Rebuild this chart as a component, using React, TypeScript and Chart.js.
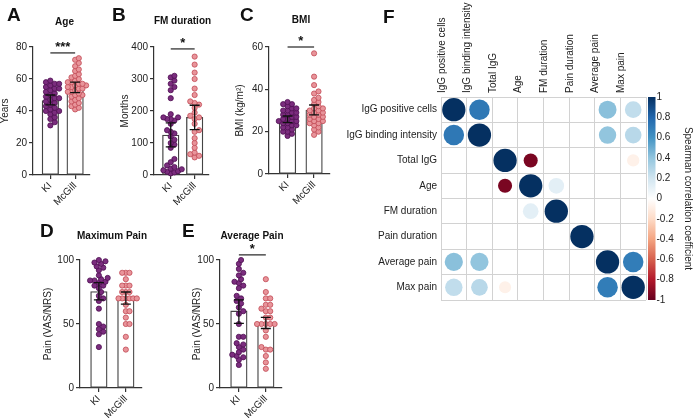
import React, { useEffect, useRef } from 'react';
import { Chart, registerables } from 'chart.js';

Chart.register(...registerables);

const FONT = '"Liberation Sans", Arial, Helvetica, sans-serif';
Chart.defaults.font.family = FONT;
Chart.defaults.color = '#222';

// ---------- data ----------
const groups = ['KI', 'McGill'];

// A: Age (years)
const ageKI = [31, 33, 35, 36, 38, 39, 40, 40, 41, 42, 43, 44, 45, 46, 47, 48, 48, 49, 50, 51, 52, 53, 54, 54, 55, 56, 57, 57, 58, 59];
const ageMcGill = [41, 42, 43, 44, 45, 46, 47, 48, 49, 50, 50, 51, 52, 52, 53, 54, 54, 55, 55, 56, 56, 57, 57, 58, 58, 59, 60, 61, 62, 63, 65, 66, 68, 70, 72, 73];
const ageMean = [46.5, 54.6];
const ageLow = [43.8, 51.5];
const ageHigh = [50, 58];
const ageTicks = [0, 20, 40, 60, 80];

// B: FM duration (months)
const fmKI = [5, 8, 10, 12, 15, 18, 20, 25, 30, 40, 50, 85, 95, 100, 110, 120, 130, 135, 140, 160, 170, 175, 175, 180, 180, 190, 240, 265, 275, 285, 295, 305, 310];
const fmMcGill = [55, 60, 65, 70, 85, 100, 115, 135, 140, 160, 175, 180, 185, 195, 210, 220, 225, 230, 250, 270, 300, 320, 345, 370];
const fmMean = [125, 180];
const fmLow = [88, 142];
const fmHigh = [163, 218];
const fmTicks = [0, 100, 200, 300, 400];

// C: BMI
const bmiKI = [18, 19, 20, 20, 21, 22, 22, 23, 23, 24, 24, 25, 25, 25, 26, 26, 27, 27, 28, 28, 29, 29, 30, 30, 31, 31, 32, 33, 33, 34];
const bmiMcGill = [18.5, 20, 21, 22, 23, 24, 24, 25, 25, 26, 26, 27, 27, 28, 28, 29, 29, 30, 30, 31, 31, 32, 33, 34, 35, 36, 38, 39, 42, 46, 57];
const bmiMean = [25.8, 30.2];
const bmiLow = [24.3, 27.9];
const bmiHigh = [27.4, 32.6];
const bmiTicks = [0, 20, 40, 60];

// D: Maximum pain
const maxPainKI = [32, 42, 44, 46, 48, 50, 62, 68, 70, 72, 75, 78, 80, 80, 82, 83, 84, 84, 85, 86, 88, 92, 94, 95, 97, 98, 99, 100];
const maxPainMcGill = [30, 40, 50, 50, 55, 60, 60, 65, 70, 70, 70, 70, 70, 70, 75, 75, 75, 80, 80, 80, 85, 90, 90, 90];
const maxPainMean = [75.3, 70];
const maxPainLow = [68.8, 65.5];
const maxPainHigh = [82.3, 75];
const painTicks = [0, 50, 100];

// E: Average pain
const avgPainKI = [18, 22, 24, 25, 26, 28, 30, 32, 34, 35, 40, 40, 50, 58, 60, 63, 66, 68, 70, 72, 78, 80, 82, 83, 85, 88, 90, 93, 97, 100];
const avgPainMcGill = [15, 20, 25, 30, 30, 32, 40, 45, 50, 50, 50, 50, 50, 55, 55, 60, 60, 62, 65, 65, 70, 70, 75, 85];
const avgPainMean = [60.2, 51];
const avgPainLow = [50.5, 46.5];
const avgPainHigh = [68.8, 55.2];

// F: Spearman correlation matrix
const corrLabels = ['IgG positive cells', 'IgG binding intensity', 'Total IgG', 'Age', 'FM duration', 'Pain duration', 'Average pain', 'Max pain'];
const corrValues = [
  [1, 0.72, 0, 0, 0, 0, 0.42, 0.25],
  [0.72, 1, 0, 0, 0, 0, 0.4, 0.28],
  [0, 0, 1, -0.95, 0, 0, 0, -0.08],
  [0, 0, -0.95, 1, 0.12, 0, 0, 0],
  [0, 0, 0, 0.12, 1, 0, 0, 0],
  [0, 0, 0, 0, 0, 1, 0, 0],
  [0.42, 0.4, 0, 0, 0, 0, 1, 0.7],
  [0.25, 0.28, -0.08, 0, 0, 0, 0.7, 1],
];
const circleSize = [
  [0.91, 0.8, 0, 0, 0, 0, 0.7, 0.65],
  [0.8, 0.91, 0, 0, 0, 0, 0.68, 0.65],
  [0, 0, 0.91, 0.55, 0, 0, 0, 0.48],
  [0, 0, 0.55, 0.91, 0.61, 0, 0, 0],
  [0, 0, 0, 0.61, 0.91, 0, 0, 0],
  [0, 0, 0, 0, 0, 0.91, 0, 0],
  [0.71, 0.71, 0, 0, 0, 0, 0.91, 0.8],
  [0.68, 0.65, 0.47, 0, 0, 0, 0.8, 0.91],
];
const colorbarTicks = [1, 0.8, 0.6, 0.4, 0.2, 0, -0.2, -0.4, -0.6, -0.8, -1];

// ---------- styles / layout ----------
const AXIS = '#333';
const KI_FILL = '#7b2d7e';
const KI_EDGE = '#4e0f52';
const MC_FILL = '#e8949a';
const MC_EDGE = '#c24a55';
const X_MIN = -0.7;
const X_MAX = 1.6;
const DOT_D = 4.4;
const MAX_SPREAD = 11;
const CAP = 5;
const RDBU = ['#67001F', '#B2182B', '#D6604D', '#F4A582', '#FDDBC7', '#FFFFFF', '#D1E5F0', '#92C5DE', '#4393C3', '#2166AC', '#053061'];

function hexRgb(h: string) {
  return [parseInt(h.slice(1, 3), 16), parseInt(h.slice(3, 5), 16), parseInt(h.slice(5, 7), 16)];
}
function rdbu(v: number) {
  const t = ((Math.max(-1, Math.min(1, v)) + 1) / 2) * 10;
  const i = Math.min(9, Math.floor(t));
  const f = t - i;
  const a = hexRgb(RDBU[i]);
  const b = hexRgb(RDBU[i + 1]);
  const c = a.map((av, k) => Math.round(av + (b[k] - av) * f));
  return `rgb(${c[0]},${c[1]},${c[2]})`;
}

function swarm(values: number[], center: number, pxPerY: number, pxPerX: number) {
  const order = values.map((_, i) => i).sort((a, b) => values[a] - values[b]);
  const placed: { x: number; y: number }[] = [];
  const offs: number[] = new Array(values.length).fill(0);
  const step = DOT_D * 0.5;
  for (const i of order) {
    const y = values[i] * pxPerY;
    let chosen = 0;
    for (let k = 0; k < 80; k++) {
      const off = k === 0 ? 0 : (k % 2 ? 1 : -1) * Math.ceil(k / 2) * step;
      if (placed.every((p) => (p.x - off) ** 2 + (p.y - y) ** 2 >= DOT_D * DOT_D * 0.9)) {
        chosen = off;
        break;
      }
    }
    placed.push({ x: chosen, y });
    offs[i] = chosen;
  }
  const maxOff = Math.max(...offs.map(Math.abs), 1);
  const k = maxOff > MAX_SPREAD ? MAX_SPREAD / maxOff : 1;
  return values.map((v, i) => ({ x: center + (offs[i] * k) / pxPerX, y: v }));
}

type Panel = {
  id: string;
  left: number; top: number; width: number; height: number;
  axisX: number; plotRight: number; plotTop: number; plotBottom: number;
  yTicks: number[]; yTitle: string;
  ki: number[]; mc: number[]; mean: number[]; low: number[]; high: number[];
  sig?: { y: number; text: string };
};

const panels: Panel[] = [
  { id: 'A', left: -1, top: 0, width: 113, height: 215, axisX: 33, plotRight: 90, plotTop: 47, plotBottom: 175,
    yTicks: ageTicks, yTitle: 'Years', ki: ageKI, mc: ageMcGill, mean: ageMean, low: ageLow, high: ageHigh,
    sig: { y: 76.3, text: '***' } },
  { id: 'B', left: 119, top: 0, width: 110, height: 215, axisX: 154, plotRight: 209, plotTop: 47, plotBottom: 175,
    yTicks: fmTicks, yTitle: 'Months', ki: fmKI, mc: fmMcGill, mean: fmMean, low: fmLow, high: fmHigh,
    sig: { y: 394, text: '*' } },
  { id: 'C', left: 234, top: 0, width: 118, height: 215, axisX: 269, plotRight: 330, plotTop: 47, plotBottom: 174,
    yTicks: bmiTicks, yTitle: 'BMI (kg/m²)', ki: bmiKI, mc: bmiMcGill, mean: bmiMean, low: bmiLow, high: bmiHigh,
    sig: { y: 60, text: '*' } },
  { id: 'D', left: 42, top: 200, width: 120, height: 218, axisX: 80, plotRight: 142, plotTop: 260, plotBottom: 388,
    yTicks: painTicks, yTitle: 'Pain (VAS/NRS)', ki: maxPainKI, mc: maxPainMcGill, mean: maxPainMean, low: maxPainLow, high: maxPainHigh },
  { id: 'E', left: 191, top: 200, width: 111, height: 218, axisX: 220, plotRight: 282, plotTop: 260, plotBottom: 388,
    yTicks: painTicks, yTitle: 'Pain (VAS/NRS)', ki: avgPainKI, mc: avgPainMcGill, mean: avgPainMean, low: avgPainLow, high: avgPainHigh,
    sig: { y: 104, text: '*' } },
];

const panelLetters = [
  { t: 'A', x: 7, y: 21 }, { t: 'B', x: 112, y: 21 }, { t: 'C', x: 240, y: 21 },
  { t: 'D', x: 40, y: 237 }, { t: 'E', x: 182, y: 237 }, { t: 'F', x: 383, y: 23 },
];
const panelTitles = [
  { t: 'Age', x: 64.5, y: 25 }, { t: 'FM duration', x: 182.5, y: 24 }, { t: 'BMI', x: 301, y: 23 },
  { t: 'Maximum Pain', x: 112, y: 239 }, { t: 'Average Pain', x: 252, y: 239 },
];

function BarDotPanel({ p }: { p: Panel }) {
  const ref = useRef<HTMLCanvasElement>(null);
  useEffect(() => {
    const ymax = p.yTicks[p.yTicks.length - 1];
    const pxPerY = (p.plotBottom - p.plotTop) / ymax;
    const pxPerX = (p.plotRight - p.axisX) / (X_MAX - X_MIN);
    const kiPts = swarm(p.ki, 0, pxPerY, pxPerX);
    const mcPts = swarm(p.mc, 1, pxPerY, pxPerX);
    const overlay = {
      id: 'overlay',
      afterDatasetsDraw(chart: any) {
        const { ctx } = chart;
        const xs = chart.scales.x;
        const ys = chart.scales.y;
        ctx.save();
        ctx.strokeStyle = '#111';
        ctx.lineWidth = 1.3;
        p.mean.forEach((_, i) => {
          const cx = xs.getPixelForValue(i);
          const yl = ys.getPixelForValue(p.low[i]);
          const yh = ys.getPixelForValue(p.high[i]);
          ctx.beginPath();
          ctx.moveTo(cx, yl); ctx.lineTo(cx, yh);
          ctx.moveTo(cx - CAP, yl); ctx.lineTo(cx + CAP, yl);
          ctx.moveTo(cx - CAP, yh); ctx.lineTo(cx + CAP, yh);
          ctx.stroke();
        });
        if (p.sig) {
          const ly = ys.getPixelForValue(p.sig.y);
          const x0 = xs.getPixelForValue(0);
          const x1 = xs.getPixelForValue(1);
          ctx.strokeStyle = '#222';
          ctx.lineWidth = 1.2;
          ctx.beginPath();
          ctx.moveTo(x0, ly); ctx.lineTo(x1, ly);
          ctx.stroke();
          ctx.fillStyle = '#111';
          ctx.font = `bold 13px ${FONT}`;
          ctx.textAlign = 'center';
          ctx.textBaseline = 'alphabetic';
          ctx.fillText(p.sig.text, (x0 + x1) / 2, ly - 2);
        }
        ctx.restore();
      },
    };
    const chart = new Chart(ref.current!, {
      type: 'bar',
      data: {
        datasets: [
          { type: 'scatter', data: kiPts, backgroundColor: KI_FILL, borderColor: KI_EDGE, borderWidth: 0.8, pointRadius: 2.6, order: 1, clip: false } as any,
          { type: 'scatter', data: mcPts, backgroundColor: MC_FILL, borderColor: MC_EDGE, borderWidth: 0.8, pointRadius: 2.6, order: 1, clip: false } as any,
          { type: 'bar', data: p.mean.map((m, i) => ({ x: i, y: m })), backgroundColor: '#fff', borderColor: '#444', borderWidth: 1.3, borderSkipped: false, barThickness: 16.5, order: 2 } as any,
        ],
      },
      options: {
        animation: false,
        responsive: true,
        maintainAspectRatio: false,
        events: [],
        layout: { padding: { top: p.plotTop - p.top, right: p.left + p.width - p.plotRight, left: 0, bottom: 0 } },
        plugins: { legend: { display: false }, tooltip: { enabled: false } },
        scales: {
          x: {
            type: 'linear', min: X_MIN, max: X_MAX, offset: false,
            afterBuildTicks: (s: any) => { s.ticks = groups.map((_, i) => ({ value: i })); },
            afterFit: (s: any) => { s.height = p.top + p.height - p.plotBottom; },
            grid: { drawOnChartArea: false, drawTicks: true, tickLength: 4, color: AXIS, lineWidth: 1.2, offset: false },
            border: { display: true, color: AXIS, width: 1.2 },
            ticks: { autoSkip: false, minRotation: 45, maxRotation: 45, padding: 1, font: { size: 10 }, color: '#222',
              callback: (v: any) => groups[v as number] ?? '' },
          },
          y: {
            type: 'linear', min: 0, max: ymax,
            afterBuildTicks: (s: any) => { s.ticks = p.yTicks.map((v) => ({ value: v })); },
            afterFit: (s: any) => { s.width = p.axisX - p.left; },
            grid: { drawOnChartArea: false, drawTicks: true, tickLength: 4, color: AXIS, lineWidth: 1.2 },
            border: { display: true, color: AXIS, width: 1.2 },
            ticks: { padding: 2, font: { size: 10 }, color: '#222', callback: (v: any) => String(v) },
            title: { display: true, text: p.yTitle, font: { size: 10 }, color: '#222', padding: { top: 0, bottom: 0 } },
          },
        },
      } as any,
      plugins: [overlay],
    });
    return () => chart.destroy();
  }, []);
  return (
    <div style={{ position: 'absolute', left: p.left, top: p.top, width: p.width, height: p.height }}>
      <canvas ref={ref} />
    </div>
  );
}

const F_BOX = { left: 330, top: 0, width: 363, height: 320, plotLeft: 441, plotRight: 646, plotTop: 97, plotBottom: 300 };

function CorrPanel() {
  const ref = useRef<HTMLCanvasElement>(null);
  useEffect(() => {
    const cell = (F_BOX.plotRight - F_BOX.plotLeft) / corrLabels.length;
    const pts: { x: string; y: string; r: number }[] = [];
    const cols: string[] = [];
    corrLabels.forEach((rowLab, i) => {
      corrLabels.forEach((colLab, j) => {
        if (circleSize[i][j] > 0) {
          pts.push({ x: colLab, y: rowLab, r: (circleSize[i][j] * cell) / 2 });
          cols.push(rdbu(corrValues[i][j]));
        }
      });
    });
    const colorbar = {
      id: 'colorbar',
      afterDraw(chart: any) {
        const { ctx, chartArea } = chart;
        const x0 = chartArea.right + 2;
        const w = 7.5;
        const top = chartArea.top;
        const h = chartArea.bottom - chartArea.top;
        ctx.save();
        const g = ctx.createLinearGradient(0, top, 0, top + h);
        RDBU.slice().reverse().forEach((c, k) => g.addColorStop(k / (RDBU.length - 1), c));
        ctx.fillStyle = g;
        ctx.fillRect(x0, top, w, h);
        ctx.fillStyle = '#222';
        ctx.font = `10px ${FONT}`;
        ctx.textAlign = 'left';
        ctx.textBaseline = 'middle';
        colorbarTicks.forEach((v) => {
          const y = top + ((1 - v) / 2) * h;
          ctx.fillText(String(v), x0 + w + 1, y);
        });
        ctx.translate(688 - F_BOX.left, top + h / 2);
        ctx.rotate(Math.PI / 2);
        ctx.textAlign = 'center';
        ctx.fillText('Spearman correlation coefficient', 0, 0);
        ctx.restore();
      },
    };
    const gridCol = '#d2d2d2';
    const chart = new Chart(ref.current!, {
      type: 'bubble',
      data: {
        datasets: [{ data: pts, backgroundColor: cols, borderWidth: 0, clip: false } as any],
      },
      options: {
        animation: false,
        responsive: true,
        maintainAspectRatio: false,
        events: [],
        layout: { padding: { top: 0, left: 0, right: F_BOX.left + F_BOX.width - F_BOX.plotRight, bottom: F_BOX.height - F_BOX.plotBottom } },
        plugins: { legend: { display: false }, tooltip: { enabled: false } },
        scales: {
          x: {
            type: 'category', labels: corrLabels, position: 'top', offset: true,
            afterFit: (s: any) => { s.height = F_BOX.plotTop - F_BOX.top; },
            grid: { offset: true, color: gridCol, lineWidth: 1, drawTicks: false },
            border: { display: true, color: gridCol, width: 1 },
            ticks: { autoSkip: false, minRotation: 90, maxRotation: 90, padding: 4, font: { size: 10 }, color: '#222' },
          },
          y: {
            type: 'category', labels: corrLabels, offset: true,
            afterFit: (s: any) => { s.width = F_BOX.plotLeft - F_BOX.left; },
            grid: { offset: true, color: gridCol, lineWidth: 1, drawTicks: false },
            border: { display: true, color: gridCol, width: 1 },
            ticks: { autoSkip: false, padding: 4, font: { size: 10 }, color: '#222' },
          },
        },
      } as any,
      plugins: [colorbar],
    });
    return () => chart.destroy();
  }, []);
  return (
    <div style={{ position: 'absolute', left: F_BOX.left, top: F_BOX.top, width: F_BOX.width, height: F_BOX.height }}>
      <canvas ref={ref} />
    </div>
  );
}

function Label({ t, x, y, size, center }: { t: string; x: number; y: number; size: number; center?: boolean }) {
  return (
    <div
      style={{
        position: 'absolute', left: x, top: y - 0.8465 * size, fontSize: size, lineHeight: `${size}px`,
        fontWeight: 700, whiteSpace: 'nowrap', color: '#111', transform: center ? 'translateX(-50%)' : undefined,
      }}
    >
      {t}
    </div>
  );
}

export default function App() {
  return (
    <div style={{ position: 'fixed', left: 0, top: 0, width: 693, height: 418, background: '#fff', fontFamily: FONT, overflow: 'hidden' }}>
      {panels.map((p) => <BarDotPanel key={p.id} p={p} />)}
      <CorrPanel />
      {panelLetters.map((l) => <Label key={l.t} t={l.t} x={l.x} y={l.y} size={19} />)}
      {panelTitles.map((l) => <Label key={l.t} t={l.t} x={l.x} y={l.y} size={10} center />)}
    </div>
  );
}
